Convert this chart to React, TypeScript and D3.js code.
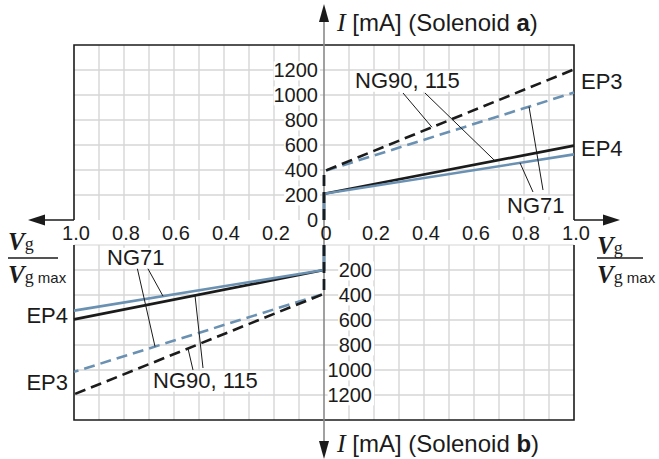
import * as d3 from "d3";

// x: Vg / Vg max, y: control current I [mA]
const ratioTicks = [0, 0.2, 0.4, 0.6, 0.8, 1.0];
const ratioGrid = [0.1, 0.2, 0.3, 0.4, 0.5, 0.6, 0.7, 0.8, 0.9];
const currentTicksA = [0, 200, 400, 600, 800, 1000, 1200];
const currentTicksB = [200, 400, 600, 800, 1000, 1200];
const currentGrid = [200, 400, 600, 800, 1000, 1200];

// each curve: jump at Vg = 0 then straight rise
const ratioPts = [0, 0, 1];
// solenoid a (right / top)
const aEp3Ng90 = [0, 390, 1205];
const aEp3Ng71 = [0, 390, 1020];
const aEp4Ng90 = [0, 210, 595];
const aEp4Ng71 = [0, 210, 525];
// solenoid b (left / bottom)
const bEp3Ng90 = [0, 390, 1195];
const bEp3Ng71 = [0, 390, 1015];
const bEp4Ng90 = [0, 200, 595];
const bEp4Ng71 = [0, 200, 525];

const BLACK = "#1b1b1b";
const BLUE = "#6a91b2";
const GRID = "#d6d6d6";
const SANS = "'Liberation Sans', Arial, sans-serif";
const SERIF = "'Liberation Serif', 'Times New Roman', serif";

const App = () => {
  const width = 659;
  const height = 459;

  const xRight = d3.scaleLinear().domain([0, 1]).range([324, 574]);
  const xLeft = d3.scaleLinear().domain([0, 1]).range([324, 74]);
  const yTop = d3.scaleLinear().domain([0, 1400]).range([220, 45]);
  const yBot = d3.scaleLinear().domain([0, 1400]).range([245, 420]);

  const lineA = d3
    .line<number>()
    .x((_, i) => xRight(ratioPts[i]))
    .y((d) => yTop(d));
  const lineB = d3
    .line<number>()
    .x((_, i) => xLeft(ratioPts[i]))
    .y((d) => yBot(d));

  const curves = [
    { d: lineA(aEp4Ng90), color: BLACK, dash: undefined },
    { d: lineA(aEp4Ng71), color: BLUE, dash: undefined },
    { d: lineA(aEp3Ng71), color: BLUE, dash: "11,6" },
    { d: lineA(aEp3Ng90), color: BLACK, dash: "11,6" },
    { d: lineB(bEp4Ng90), color: BLACK, dash: undefined },
    { d: lineB(bEp4Ng71), color: BLUE, dash: undefined },
    { d: lineB(bEp3Ng71), color: BLUE, dash: "11,6" },
    { d: lineB(bEp3Ng90), color: BLACK, dash: "11,6" },
  ];

  // leader lines [from ratio, from mA, to ratio, to mA]
  const leadersA = [
    [0.316, 1016, 0.432, 742],
    [0.404, 1016, 0.684, 473],
    [0.836, 224, 0.784, 457],
    [0.876, 240, 0.82, 907],
  ];
  const leadersB = [
    [0.748, 176, 0.676, 812],
    [0.708, 176, 0.644, 409],
    [0.524, 1000, 0.544, 828],
    [0.484, 984, 0.516, 404],
  ];

  const labelFs = 22;
  const tickFs = 20;

  const frac = (x: number, yNum: number, yLine: number, yDen: number, w: number) => (
    <g>
      <text x={x} y={yNum} fontFamily={SERIF} fontSize={25} fontStyle="italic" fontWeight="bold" fill={BLACK}>
        V<tspan fontStyle="normal" fontWeight="normal" fontSize={18}>g</tspan>
      </text>
      <line x1={x} x2={x + w} y1={yLine} y2={yLine} stroke={BLACK} strokeWidth={1.3} />
      <text x={x} y={yDen} fontFamily={SERIF} fontSize={25} fontStyle="italic" fontWeight="bold" fill={BLACK}>
        V<tspan fontStyle="normal" fontWeight="normal" fontSize={18}>g</tspan>
        <tspan fontFamily={SANS} fontStyle="normal" fontWeight="normal" fontSize={15}> max</tspan>
      </text>
    </g>
  );

  const bgText = (x: number, y: number, txt: string, anchor: "start" | "end" | "middle", fs: number, bg = true) => {
    const w = txt.length * fs * 0.53;
    const x0 = anchor === "start" ? x - 2 : anchor === "end" ? x - w - 2 : x - w / 2 - 2;
    return (
      <g key={`${txt}-${x}-${y}`}>
        {bg && <rect x={x0} y={y - fs * 0.78} width={w + 4} height={fs * 0.95} fill="white" />}
        <text x={x} y={y} fontSize={fs} fontFamily={SANS} textAnchor={anchor} fill={BLACK}>
          {txt}
        </text>
      </g>
    );
  };

  return (
    <svg
      width={width}
      height={height}
      viewBox={`0 0 ${width} ${height}`}
      style={{ position: "absolute", left: 0, top: 0, background: "white" }}
    >
      {/* grid */}
      {ratioGrid.map((r) => (
        <g key={`gx${r}`}>
          {[xLeft(r), xRight(r)].map((x) => (
            <g key={x}>
              <line x1={x} x2={x} y1={yTop(1400)} y2={yTop(0)} stroke={GRID} strokeWidth={1.4} />
              <line x1={x} x2={x} y1={yBot(0)} y2={yBot(1400)} stroke={GRID} strokeWidth={1.4} />
            </g>
          ))}
        </g>
      ))}
      {currentGrid.map((c) => (
        <g key={`gy${c}`}>
          <line x1={xLeft(1)} x2={xRight(1)} y1={yTop(c)} y2={yTop(c)} stroke={GRID} strokeWidth={1.4} />
          <line x1={xLeft(1)} x2={xRight(1)} y1={yBot(c)} y2={yBot(c)} stroke={GRID} strokeWidth={1.4} />
        </g>
      ))}
      <line x1={xLeft(1)} x2={xRight(1)} y1={yBot(0)} y2={yBot(0)} stroke={GRID} strokeWidth={1.2} />

      {/* boxes (open toward the x-axis band) */}
      <path
        d={`M${xLeft(1)},${yTop(0)}V${yTop(1400)}H${xRight(1)}V${yTop(0)}`}
        fill="none"
        stroke={BLACK}
        strokeWidth={1.6}
      />
      <path
        d={`M${xLeft(1)},${yBot(0)}V${yBot(1400)}H${xRight(1)}V${yBot(0)}`}
        fill="none"
        stroke={BLACK}
        strokeWidth={1.6}
      />

      {/* current tick labels */}
      {currentTicksA.map((c) => bgText(318, yTop(c) + 7, String(c), "end", tickFs))}
      {currentTicksB.map((c) => bgText(372, yBot(c) + 7, String(c), "end", tickFs))}

      {/* vertical axis */}
      <line x1={324} x2={324} y1={14} y2={452} stroke="#8a8a8a" strokeWidth={1.6} />
      <path d={`M${324 - 5},${22}L324,4L${324 + 5},22Z`} fill={BLACK} />
      <path d={`M${324 - 5},${441}L324,459L${324 + 5},441Z`} fill={BLACK} />

      {/* horizontal axis arrows */}
      <line x1={36} x2={xLeft(1)} y1={220} y2={220} stroke={BLACK} strokeWidth={1.6} />
      <path d={`M28,220L45,214.5L45,225.5Z`} fill={BLACK} />
      <line x1={xRight(1)} x2={612} y1={220} y2={220} stroke={BLACK} strokeWidth={1.6} />
      <path d={`M620,220L603,214.5L603,225.5Z`} fill={BLACK} />

      {/* ratio tick labels */}
      {ratioTicks.map((r) => (
        <g key={`rt${r}`}>
          <text x={xLeft(r) + 2} y={240} fontSize={tickFs} fontFamily={SANS} textAnchor="middle" fill={BLACK}>
            {r === 0 ? "0" : r.toFixed(1)}
          </text>
          {r > 0 && (
            <text x={xRight(r) + 2} y={240} fontSize={tickFs} fontFamily={SANS} textAnchor="middle" fill={BLACK}>
              {r.toFixed(1)}
            </text>
          )}
        </g>
      ))}

      {/* curves */}
      {curves.map((c, i) => (
        <path
          key={i}
          d={c.d ?? ""}
          fill="none"
          stroke={c.color}
          strokeWidth={2.6}
          strokeDasharray={c.dash}
        />
      ))}

      {/* leaders */}
      {leadersA.map(([r0, c0, r1, c1], i) => (
        <line key={`la${i}`} x1={xRight(r0)} y1={yTop(c0)} x2={xRight(r1)} y2={yTop(c1)} stroke={BLACK} strokeWidth={1} />
      ))}
      {leadersB.map(([r0, c0, r1, c1], i) => (
        <line key={`lb${i}`} x1={xLeft(r0)} y1={yBot(c0)} x2={xLeft(r1)} y2={yBot(c1)} stroke={BLACK} strokeWidth={1} />
      ))}

      {/* annotation labels */}
      {bgText(355, 88, "NG90, 115", "start", labelFs)}
      {bgText(507, 213, "NG71", "start", labelFs)}
      {bgText(107, 265, "NG71", "start", labelFs)}
      {bgText(153, 388, "NG90, 115", "start", labelFs)}
      {bgText(581, 89, "EP3", "start", labelFs, false)}
      {bgText(581, 156, "EP4", "start", labelFs, false)}
      {bgText(68, 323, "EP4", "end", labelFs, false)}
      {bgText(68, 390, "EP3", "end", labelFs, false)}

      {/* axis titles */}
      <text x={337} y={31} fontSize={24} fontFamily={SANS} fill={BLACK}>
        <tspan fontFamily={SERIF} fontStyle="italic" fontSize={26}>I</tspan> [mA] (Solenoid <tspan fontWeight="bold">a</tspan>)
      </text>
      <text x={337} y={452} fontSize={24} fontFamily={SANS} fill={BLACK}>
        <tspan fontFamily={SERIF} fontStyle="italic" fontSize={26}>I</tspan> [mA] (Solenoid <tspan fontWeight="bold">b</tspan>)
      </text>

      {frac(8, 250, 258, 283, 50)}
      {frac(597, 254, 258, 283, 46)}
    </svg>
  );
};

export default App;
